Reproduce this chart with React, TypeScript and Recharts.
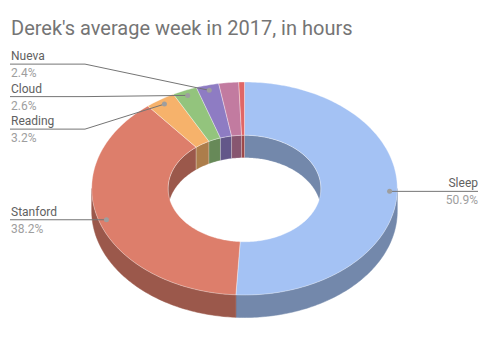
import { PieChart, Pie, Cell } from "recharts";

const names = ["Sleep", "Stanford", "Reading", "Cloud", "Nueva", "Other", "Misc"];
const hours = [50.9, 38.2, 3.2, 2.6, 2.4, 2.1, 0.6];
const colors = ["#a4c2f4", "#dd7e6b", "#f6b26b", "#93c47d", "#8e7cc3", "#c27ba0", "#e06666"];

const data = names.map((name, i) => ({ name, value: hours[i] }));

const W = 490;
const H = 358;
const CX = 244.5;
const CY = 188.5;
const R = 152.8;
const TILT = 0.697;
const DEPTH = 22.5;
const DOT_K = 0.95;
const GAP = 32.5;
const MIN_LABEL = 0.023;

function darken(hex: string, f = 0.7) {
  const n = parseInt(hex.slice(1), 16);
  const r = Math.round(((n >> 16) & 255) * f);
  const g = Math.round(((n >> 8) & 255) * f);
  const b = Math.round((n & 255) * f);
  return `rgb(${r},${g},${b})`;
}

// point on the tilted ellipse, recharts angle convention
function pt(cx: number, cy: number, r: number, a: number, dy = 0) {
  const rad = (-a * Math.PI) / 180;
  return [cx + r * Math.cos(rad), cy + r * TILT * Math.sin(rad) + dy];
}

function arc(cx: number, cy: number, r: number, a1: number, a2: number, dy = 0) {
  const steps = Math.max(2, Math.ceil(Math.abs(a2 - a1)));
  const out: number[][] = [];
  for (let i = 0; i <= steps; i++) {
    out.push(pt(cx, cy, r, a1 + ((a2 - a1) * i) / steps, dy));
  }
  return out;
}

function toPath(points: number[][]) {
  return points.map((p, i) => `${i ? "L" : "M"}${p[0].toFixed(2)},${p[1].toFixed(2)}`).join("") + "Z";
}

function overlap(lo: number, hi: number, ranges: number[][]) {
  const res: number[][] = [];
  ranges.forEach(([a, b]) => {
    const s = Math.max(lo, a);
    const e = Math.min(hi, b);
    if (e > s) res.push([s, e]);
  });
  return res;
}

const FRONT = [[-180, 0], [180, 360], [-540, -360]];
const BACK = [[0, 180], [-360, -180], [360, 540]];

function TopShape(p: any) {
  const { cx, cy, innerRadius, outerRadius, startAngle, endAngle, fill } = p;
  const pts = [
    ...arc(cx, cy, outerRadius, startAngle, endAngle),
    ...arc(cx, cy, innerRadius, endAngle, startAngle),
  ];
  return <path d={toPath(pts)} fill={fill} stroke="#ffffff" strokeOpacity={0.5} strokeWidth={0.7} />;
}

function OuterWall(p: any) {
  const { cx, cy, outerRadius, startAngle, endAngle, fill } = p;
  const lo = Math.min(startAngle, endAngle);
  const hi = Math.max(startAngle, endAngle);
  return (
    <g>
      {overlap(lo, hi, FRONT).map(([a, b], i) => (
        <path
          key={i}
          d={toPath([...arc(cx, cy, outerRadius, a, b), ...arc(cx, cy, outerRadius, b, a, DEPTH)])}
          fill={darken(fill)}
          stroke={darken(fill)}
          strokeWidth={0.5}
        />
      ))}
    </g>
  );
}

function InnerWall(p: any) {
  const { cx, cy, innerRadius, startAngle, endAngle, fill } = p;
  const lo = Math.min(startAngle, endAngle);
  const hi = Math.max(startAngle, endAngle);
  return (
    <g>
      {overlap(lo, hi, BACK).map(([a, b], i) => (
        <path
          key={i}
          d={toPath([...arc(cx, cy, innerRadius, a, b), ...arc(cx, cy, innerRadius, b, a, DEPTH)])}
          fill={darken(fill)}
          stroke="#ffffff"
          strokeOpacity={0.35}
          strokeWidth={0.6}
        />
      ))}
    </g>
  );
}

// label layout: stack labels on each side so they don't overlap
const total = hours.reduce((s, v) => s + v, 0);
function layoutLabels() {
  let acc = 0;
  const items: { i: number; side: number; y: number; x: number }[] = [];
  hours.forEach((v, i) => {
    const mid = 90 - ((acc + v / 2) / total) * 360;
    acc += v;
    if (v / total < MIN_LABEL) return;
    const [x, y] = pt(CX, CY, R * DOT_K, mid);
    items.push({ i, side: x >= CX ? 1 : -1, y, x });
  });
  const result: Record<number, number> = {};
  [1, -1].forEach((side) => {
    const list = items.filter((d) => d.side === side).sort((a, b) => a.y - b.y);
    let groups = list.map((d) => ({ members: [d], top: d.y }));
    let merged = true;
    while (merged) {
      merged = false;
      for (let g = 0; g < groups.length - 1; g++) {
        const a = groups[g];
        const b = groups[g + 1];
        if (b.top < a.top + a.members.length * GAP) {
          const members = [...a.members, ...b.members];
          const mean = members.reduce((s, d) => s + d.y, 0) / members.length;
          groups.splice(g, 2, { members, top: mean - ((members.length - 1) * GAP) / 2 });
          merged = true;
          break;
        }
      }
    }
    groups.forEach((g) => g.members.forEach((d, k) => (result[d.i] = g.top + k * GAP)));
  });
  return result;
}
const labelY = layoutLabels();

function renderLabel(p: any) {
  const { cx, cy, outerRadius, midAngle, index, percent, name } = p;
  if (labelY[index] === undefined) return null;
  const [x, y] = pt(cx, cy, outerRadius * DOT_K, midAngle);
  const ly = labelY[index];
  const right = x >= cx;
  const endX = right ? 478 : 10;
  const elbowX = right ? 405 : 85;
  const pts = Math.abs(ly - y) > 1 ? `${x},${y} ${elbowX},${ly} ${endX},${ly}` : `${x},${y} ${endX},${y}`;
  const lineY = Math.abs(ly - y) > 1 ? ly : y;
  const tx = right ? 478 : 11;
  const anchor = right ? "end" : "start";
  return (
    <g key={`lbl-${index}`}>
      <polyline points={pts} fill="none" stroke="#757575" strokeWidth={1} />
      <circle cx={x} cy={y} r={2.5} fill="#9e9e9e" />
      <text x={tx} y={lineY - 4} textAnchor={anchor} fontSize={12} fill="#616161" fontFamily="Roboto">
        {name}
      </text>
      <text x={tx} y={lineY + 13} textAnchor={anchor} fontSize={12} fill="#9e9e9e" fontFamily="Roboto">
        {(percent * 100).toFixed(1)}%
      </text>
    </g>
  );
}

export default function App() {
  const common = {
    data,
    dataKey: "value",
    nameKey: "name",
    cx: CX,
    cy: CY,
    innerRadius: R / 2,
    outerRadius: R,
    startAngle: 90,
    endAngle: -270,
    isAnimationActive: false,
    stroke: "none",
  };
  return (
    <div style={{ position: "absolute", left: 0, top: 0, width: W, height: H, background: "#fff" }}>
      <div
        style={{
          position: "absolute",
          left: 11,
          top: 18,
          fontFamily: "Roboto",
          fontSize: 20,
          lineHeight: "20px",
          color: "#757575",
          whiteSpace: "nowrap",
        }}
      >
        Derek's average week in 2017, in hours
      </div>
      <PieChart width={W} height={H} margin={{ top: 0, right: 0, bottom: 0, left: 0 }}>
        <Pie {...common} label={false} labelLine={false} shape={OuterWall} activeShape={OuterWall} inactiveShape={OuterWall}>
          {data.map((d, i) => (
            <Cell key={d.name} fill={colors[i]} />
          ))}
        </Pie>
        <Pie {...common} label={false} labelLine={false} shape={InnerWall} activeShape={InnerWall} inactiveShape={InnerWall}>
          {data.map((d, i) => (
            <Cell key={d.name} fill={colors[i]} />
          ))}
        </Pie>
        <Pie {...common} label={renderLabel} labelLine={false} shape={TopShape} activeShape={TopShape} inactiveShape={TopShape}>
          {data.map((d, i) => (
            <Cell key={d.name} fill={colors[i]} />
          ))}
        </Pie>
      </PieChart>
    </div>
  );
}
